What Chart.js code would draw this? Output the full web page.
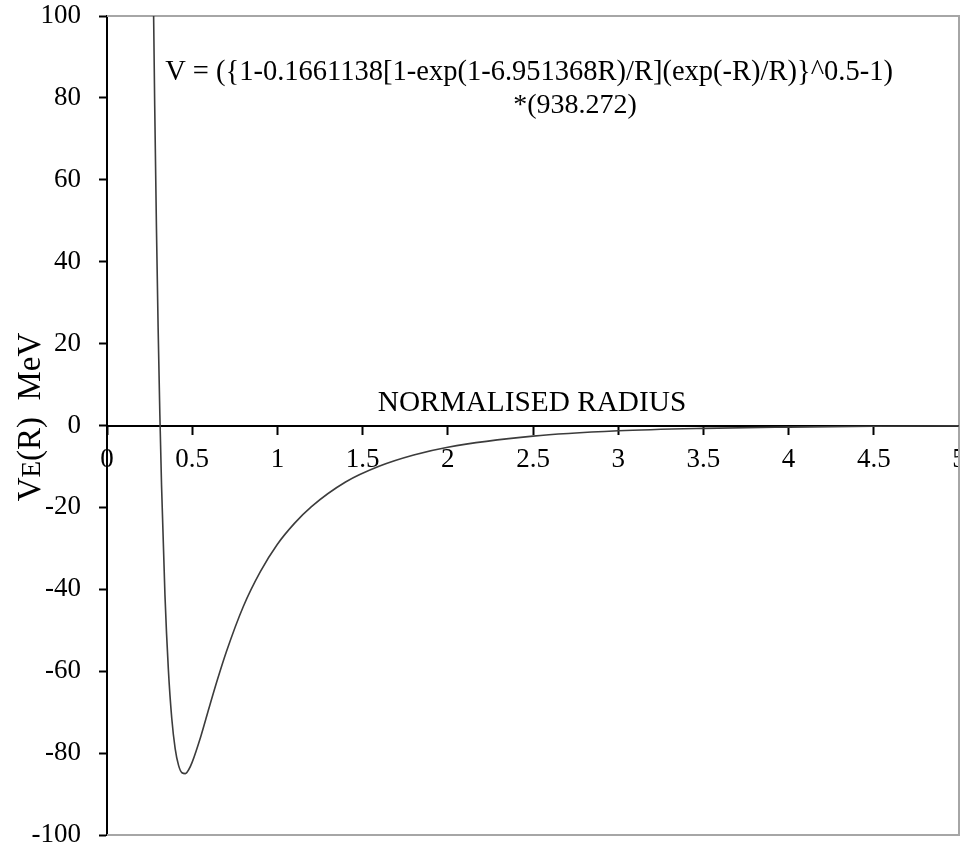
<!DOCTYPE html>
<html>
<head>
<meta charset="utf-8">
<script src="https://cdn.jsdelivr.net/npm/chart.js@4.4.0/dist/chart.umd.min.js"></script>
<style>
  body { margin: 0; background: #fff; }
  #wrap { width: 960px; height: 850px; }
</style>
</head>
<body>
<div id="wrap"><canvas id="myChart" width="960" height="850"></canvas></div>
<script>
// normalised radius values (x)
let radius = [0.26, 0.27, 0.28, 0.29, 0.30, 0.31, 0.32, 0.34, 0.36, 0.38, 0.40, 0.42, 0.44, 0.46, 0.48, 0.50,
  0.55, 0.60, 0.65, 0.70, 0.80, 0.90, 1.0, 1.1, 1.2, 1.4, 1.6, 1.8, 2.0, 2.5, 3.0, 3.5, 4.0, 4.5, 5.0]
// potential in MeV (y)
let potential = [152.9, 112.5, 78.0, 48.7, 23.9, 3.0, -14.5, -41.3, -59.5, -71.5, -78.9, -83.0, -84.8, -85.0, -84.0, -82.2,
  -76.0, -68.8, -61.8, -55.3, -44.2, -35.7, -29.0, -23.9, -19.8, -13.8, -9.9, -7.2, -5.3, -2.6, -1.3, -0.7, -0.4, -0.2, -0.1]

// axis ticks
let xTicks = [0, 0.5, 1, 1.5, 2, 2.5, 3, 3.5, 4, 4.5, 5]
let yTicks = [-100, -80, -60, -40, -20, 0, 20, 40, 60, 80, 100]

let equationLine1 = 'V = ({1-0.1661138[1-exp(1-6.951368R)/R](exp(-R)/R)}^0.5-1)'
let equationLine2 = '*(938.272)'
let xTitle = 'NORMALISED RADIUS'

let serif = "'Liberation Serif', 'Times New Roman', serif"

// build points for the line
let points = []
for (let i = 0; i < radius.length; i++) {
  points.push({ x: radius[i], y: potential[i] })
}

// plugin that draws the gray frame lines, the texts and the rotated y title
let extras = {
  id: 'extras',
  beforeDatasetsDraw(chart) {
    let ctx = chart.ctx
    let a = chart.chartArea
    ctx.save()
    ctx.strokeStyle = '#a6a6a6'
    ctx.lineWidth = 2
    ctx.beginPath()
    ctx.moveTo(a.left, a.top)
    ctx.lineTo(a.right, a.top)
    ctx.lineTo(a.right, a.bottom)
    ctx.lineTo(a.left, a.bottom)
    ctx.stroke()
    ctx.restore()
  },
  afterDraw(chart) {
    let ctx = chart.ctx
    ctx.save()
    ctx.fillStyle = '#000'
    ctx.textBaseline = 'middle'
    ctx.textAlign = 'center'
    ctx.font = '28.5px ' + serif
    ctx.fillText(equationLine1, 529, 73)
    ctx.font = '28px ' + serif
    ctx.fillText(equationLine2, 575, 106)
    ctx.font = '29.3px ' + serif
    ctx.fillText(xTitle, 532, 403)

    // y title: V with a smaller E, rotated
    ctx.translate(28, 417)
    ctx.rotate(-Math.PI / 2)
    ctx.textAlign = 'left'
    ctx.textBaseline = 'alphabetic'
    let big = '33px ' + serif
    let small = '27px ' + serif
    ctx.font = big
    let w1 = ctx.measureText('V').width
    ctx.font = small
    let w2 = ctx.measureText('E').width
    ctx.font = big
    let w3 = ctx.measureText('(R)  MeV').width
    let x0 = -(w1 + w2 + w3) / 2
    ctx.fillText('V', x0, 12)
    ctx.font = small
    ctx.fillText('E', x0 + w1, 12)
    ctx.font = big
    ctx.fillText('(R)  MeV', x0 + w1 + w2, 12)
    ctx.restore()
  }
}

let ctx = document.getElementById('myChart').getContext('2d')
let chart = new Chart(ctx, {
  type: 'line',
  data: {
    datasets: [{
      data: points,
      borderColor: '#3c3c3c',
      borderWidth: 1.6,
      pointRadius: 0,
      cubicInterpolationMode: 'monotone',
      fill: false
    }]
  },
  options: {
    responsive: false,
    animation: false,
    layout: { padding: { top: 16, bottom: 15, left: 0, right: 1 } },
    plugins: { legend: { display: false }, tooltip: { enabled: false } },
    scales: {
      x: {
        type: 'linear',
        position: { y: 0 },
        min: 0,
        max: 5,
        afterBuildTicks(scale) {
          scale.ticks = xTicks.map(v => ({ value: v }))
        },
        afterFit(scale) {
          scale.paddingLeft = 0
          scale.paddingRight = 0
          scale.paddingTop = 0
          scale.paddingBottom = 0
        },
        grid: { drawOnChartArea: false, drawTicks: true, tickLength: 8, color: '#000', tickWidth: 2 },
        border: { display: true, color: '#000', width: 2 },
        ticks: {
          color: '#000', font: { family: serif, size: 27 }, padding: 10, maxRotation: 0, autoSkip: false,
          callback: v => String(v)
        }
      },
      y: {
        min: -100,
        max: 100,
        afterBuildTicks(scale) {
          scale.ticks = yTicks.map(v => ({ value: v }))
        },
        afterFit(scale) {
          scale.width = 107
          scale.paddingTop = 0
          scale.paddingBottom = 0
        },
        grid: { drawOnChartArea: false, drawTicks: true, tickLength: 8, color: '#000', tickWidth: 2 },
        border: { display: true, color: '#000', width: 2 },
        ticks: { color: '#000', font: { family: serif, size: 27 }, padding: 18 }
      }
    }
  },
  plugins: [extras]
})
</script>
</body>
</html>
